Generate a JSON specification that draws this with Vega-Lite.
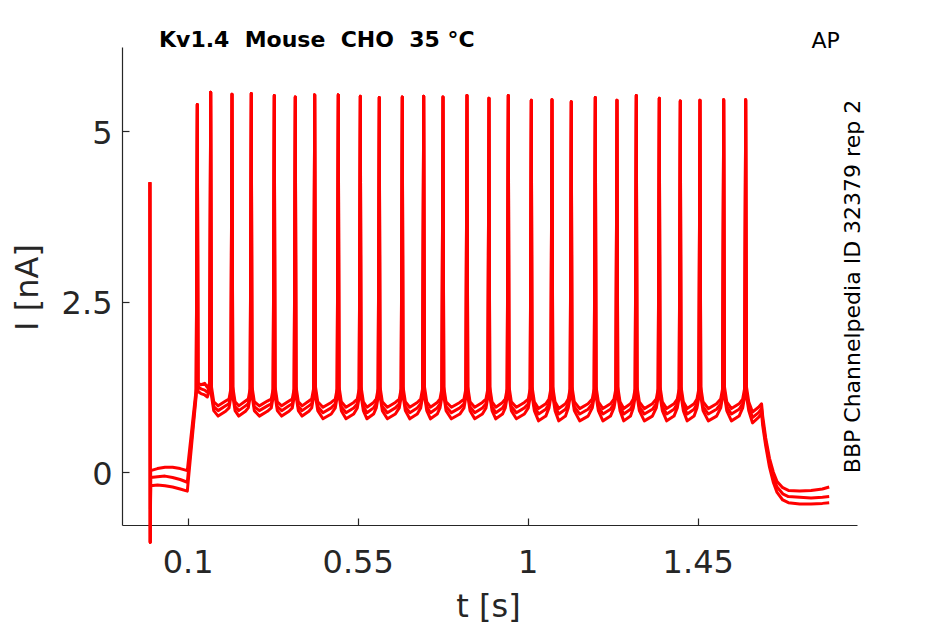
{
"$schema": "https://vega.github.io/schema/vega-lite/v6.json",
"width": 735, "height": 478,
"autosize": "none",
"padding": {"left": 122, "top": 47, "right": 88, "bottom": 99},
"background": "white",
"config": {"font": "DejaVu Sans", "view": {"stroke": null}, "axis": {"grid": false}},
"title": {"text": "Kv1.4\u00a0 Mouse\u00a0 CHO\u00a0 35 °C", "anchor": "start", "frame": "group", "dx": 37, "offset": -40, "baseline": "alphabetic", "fontSize": 22, "fontWeight": "bold", "color": "#000000", "font": "DejaVu Sans"},
"data": {"values": [
{"t":0,"a":4.25,"b":4.25,"c":4.25},
{"t":0.0008,"a":-1.03,"b":-1.03,"c":-1.03},
{"t":0.002,"a":0.02,"b":-0.08,"c":-0.2},
{"t":0.02,"a":0.05,"b":-0.07,"c":-0.19},
{"t":0.04,"a":0.07,"b":-0.06,"c":-0.2},
{"t":0.06,"a":0.07,"b":-0.08,"c":-0.22},
{"t":0.08,"a":0.05,"b":-0.11,"c":-0.25},
{"t":0.099,"a":0.02,"b":-0.15,"c":-0.28},
{"t":0.1225,"a":1.22,"b":1.17,"c":1.12},
{"t":0.1254,"a":5.39,"b":5.39,"c":5.39},
{"t":0.1274,"a":1.3,"b":1.25,"c":1.18},
{"t":0.135,"a":1.28,"b":1.22,"c":1.15},
{"t":0.145,"a":1.3,"b":1.2,"c":1.13},
{"t":0.152,"a":1.24,"b":1.17,"c":1.1},
{"t":0.1579,"a":1.3,"b":1.25,"c":1.2},
{"t":0.1609,"a":5.57,"b":5.57,"c":5.57},
{"t":0.1629,"a":1.25,"b":1.18,"c":1.12},
{"t":0.1689,"a":1.03,"b":0.96,"c":0.9},
{"t":0.1806,"a":0.97,"b":0.9,"c":0.82},
{"t":0.2004,"a":1.04,"b":0.97,"c":0.89},
{"t":0.2093,"a":1.07,"b":1.0,"c":0.94},
{"t":0.2143,"a":1.22,"b":1.15,"c":1.1},
{"t":0.2173,"a":5.54,"b":5.54,"c":5.54},
{"t":0.2193,"a":1.25,"b":1.18,"c":1.12},
{"t":0.2253,"a":1.03,"b":0.96,"c":0.9},
{"t":0.2352,"a":0.97,"b":0.9,"c":0.82},
{"t":0.253,"a":1.04,"b":0.97,"c":0.89},
{"t":0.2603,"a":1.07,"b":1.0,"c":0.94},
{"t":0.2653,"a":1.22,"b":1.15,"c":1.1},
{"t":0.2683,"a":5.55,"b":5.55,"c":5.55},
{"t":0.2703,"a":1.25,"b":1.18,"c":1.12},
{"t":0.2763,"a":1.03,"b":0.96,"c":0.9},
{"t":0.2896,"a":0.97,"b":0.9,"c":0.82},
{"t":0.3109,"a":1.04,"b":0.97,"c":0.89},
{"t":0.3212,"a":1.07,"b":1.0,"c":0.94},
{"t":0.3262,"a":1.22,"b":1.15,"c":1.1},
{"t":0.3292,"a":5.52,"b":5.52,"c":5.52},
{"t":0.3312,"a":1.25,"b":1.18,"c":1.12},
{"t":0.3372,"a":1.03,"b":0.96,"c":0.9},
{"t":0.3487,"a":0.97,"b":0.9,"c":0.82},
{"t":0.3681,"a":1.04,"b":0.97,"c":0.89},
{"t":0.3768,"a":1.07,"b":1.0,"c":0.94},
{"t":0.3818,"a":1.22,"b":1.15,"c":1.1},
{"t":0.3848,"a":5.5,"b":5.5,"c":5.5},
{"t":0.3868,"a":1.25,"b":1.18,"c":1.12},
{"t":0.3928,"a":1.03,"b":0.96,"c":0.9},
{"t":0.4028,"a":0.97,"b":0.9,"c":0.82},
{"t":0.4208,"a":1.04,"b":0.97,"c":0.89},
{"t":0.4282,"a":1.07,"b":1.0,"c":0.94},
{"t":0.4332,"a":1.22,"b":1.15,"c":1.1},
{"t":0.4362,"a":5.53,"b":5.53,"c":5.53},
{"t":0.4382,"a":1.25,"b":1.18,"c":1.12},
{"t":0.4442,"a":1.03,"b":0.96,"c":0.9},
{"t":0.458,"a":0.95,"b":0.87,"c":0.78},
{"t":0.4799,"a":1.02,"b":0.94,"c":0.85},
{"t":0.4906,"a":1.07,"b":1.0,"c":0.94},
{"t":0.4956,"a":1.22,"b":1.15,"c":1.1},
{"t":0.4986,"a":5.53,"b":5.53,"c":5.53},
{"t":0.5006,"a":1.25,"b":1.18,"c":1.12},
{"t":0.5066,"a":1.03,"b":0.96,"c":0.9},
{"t":0.519,"a":0.95,"b":0.87,"c":0.78},
{"t":0.5394,"a":1.02,"b":0.94,"c":0.85},
{"t":0.5489,"a":1.07,"b":1.0,"c":0.94},
{"t":0.5539,"a":1.22,"b":1.15,"c":1.1},
{"t":0.5569,"a":5.51,"b":5.51,"c":5.51},
{"t":0.5589,"a":1.25,"b":1.18,"c":1.12},
{"t":0.5649,"a":1.03,"b":0.96,"c":0.9},
{"t":0.5745,"a":0.95,"b":0.87,"c":0.78},
{"t":0.592,"a":1.02,"b":0.94,"c":0.85},
{"t":0.5991,"a":1.07,"b":1.0,"c":0.94},
{"t":0.6041,"a":1.22,"b":1.15,"c":1.1},
{"t":0.6071,"a":5.49,"b":5.49,"c":5.49},
{"t":0.6091,"a":1.25,"b":1.18,"c":1.12},
{"t":0.6151,"a":1.03,"b":0.96,"c":0.9},
{"t":0.6284,"a":0.95,"b":0.87,"c":0.78},
{"t":0.6497,"a":1.02,"b":0.94,"c":0.85},
{"t":0.66,"a":1.07,"b":1.0,"c":0.94},
{"t":0.665,"a":1.22,"b":1.15,"c":1.1},
{"t":0.668,"a":5.5,"b":5.5,"c":5.5},
{"t":0.67,"a":1.25,"b":1.18,"c":1.12},
{"t":0.676,"a":1.03,"b":0.96,"c":0.9},
{"t":0.6878,"a":0.95,"b":0.87,"c":0.78},
{"t":0.7077,"a":1.02,"b":0.94,"c":0.85},
{"t":0.7167,"a":1.07,"b":1.0,"c":0.94},
{"t":0.7217,"a":1.22,"b":1.15,"c":1.1},
{"t":0.7247,"a":5.51,"b":5.51,"c":5.51},
{"t":0.7267,"a":1.25,"b":1.18,"c":1.12},
{"t":0.7327,"a":1.03,"b":0.96,"c":0.9},
{"t":0.7426,"a":0.95,"b":0.87,"c":0.78},
{"t":0.7605,"a":1.02,"b":0.94,"c":0.85},
{"t":0.7678,"a":1.07,"b":1.0,"c":0.94},
{"t":0.7728,"a":1.22,"b":1.15,"c":1.1},
{"t":0.7758,"a":5.5,"b":5.5,"c":5.5},
{"t":0.7778,"a":1.25,"b":1.18,"c":1.12},
{"t":0.7838,"a":1.03,"b":0.96,"c":0.9},
{"t":0.798,"a":0.95,"b":0.87,"c":0.78},
{"t":0.8203,"a":1.02,"b":0.94,"c":0.85},
{"t":0.8313,"a":1.07,"b":1.0,"c":0.94},
{"t":0.8363,"a":1.22,"b":1.15,"c":1.1},
{"t":0.8393,"a":5.52,"b":5.52,"c":5.52},
{"t":0.8413,"a":1.25,"b":1.18,"c":1.12},
{"t":0.8473,"a":1.03,"b":0.96,"c":0.9},
{"t":0.8597,"a":0.95,"b":0.87,"c":0.78},
{"t":0.88,"a":1.02,"b":0.94,"c":0.85},
{"t":0.8895,"a":1.07,"b":1.0,"c":0.94},
{"t":0.8945,"a":1.22,"b":1.15,"c":1.1},
{"t":0.8975,"a":5.48,"b":5.48,"c":5.48},
{"t":0.8995,"a":1.25,"b":1.18,"c":1.12},
{"t":0.9055,"a":1.03,"b":0.96,"c":0.9},
{"t":0.9154,"a":0.95,"b":0.87,"c":0.78},
{"t":0.9333,"a":1.02,"b":0.94,"c":0.85},
{"t":0.9406,"a":1.07,"b":1.0,"c":0.94},
{"t":0.9456,"a":1.22,"b":1.15,"c":1.1},
{"t":0.9486,"a":5.52,"b":5.52,"c":5.52},
{"t":0.9506,"a":1.25,"b":1.18,"c":1.12},
{"t":0.9566,"a":1.03,"b":0.96,"c":0.9},
{"t":0.9699,"a":0.95,"b":0.87,"c":0.78},
{"t":0.9912,"a":1.02,"b":0.94,"c":0.85},
{"t":1.0015,"a":1.07,"b":1.0,"c":0.94},
{"t":1.0065,"a":1.22,"b":1.15,"c":1.1},
{"t":1.0095,"a":5.45,"b":5.45,"c":5.45},
{"t":1.0115,"a":1.25,"b":1.18,"c":1.12},
{"t":1.0175,"a":1.03,"b":0.96,"c":0.9},
{"t":1.0287,"a":0.93,"b":0.85,"c":0.75},
{"t":1.0479,"a":1.0,"b":0.92,"c":0.82},
{"t":1.0563,"a":1.07,"b":1.0,"c":0.94},
{"t":1.0613,"a":1.22,"b":1.15,"c":1.1},
{"t":1.0643,"a":5.46,"b":5.46,"c":5.46},
{"t":1.0663,"a":1.25,"b":1.18,"c":1.12},
{"t":1.0723,"a":1.03,"b":0.96,"c":0.9},
{"t":1.0822,"a":0.93,"b":0.85,"c":0.75},
{"t":1.1,"a":1.0,"b":0.92,"c":0.82},
{"t":1.1073,"a":1.07,"b":1.0,"c":0.94},
{"t":1.1123,"a":1.22,"b":1.15,"c":1.1},
{"t":1.1153,"a":5.43,"b":5.43,"c":5.43},
{"t":1.1173,"a":1.25,"b":1.18,"c":1.12},
{"t":1.1233,"a":1.03,"b":0.96,"c":0.9},
{"t":1.1376,"a":0.93,"b":0.85,"c":0.75},
{"t":1.1598,"a":1.0,"b":0.92,"c":0.82},
{"t":1.1709,"a":1.07,"b":1.0,"c":0.94},
{"t":1.1759,"a":1.22,"b":1.15,"c":1.1},
{"t":1.1789,"a":5.49,"b":5.49,"c":5.49},
{"t":1.1809,"a":1.25,"b":1.18,"c":1.12},
{"t":1.1869,"a":1.03,"b":0.96,"c":0.9},
{"t":1.199,"a":0.93,"b":0.85,"c":0.75},
{"t":1.2191,"a":1.0,"b":0.92,"c":0.82},
{"t":1.2283,"a":1.07,"b":1.0,"c":0.94},
{"t":1.2333,"a":1.22,"b":1.15,"c":1.1},
{"t":1.2363,"a":5.45,"b":5.45,"c":5.45},
{"t":1.2383,"a":1.25,"b":1.18,"c":1.12},
{"t":1.2443,"a":1.03,"b":0.96,"c":0.9},
{"t":1.2542,"a":0.93,"b":0.85,"c":0.75},
{"t":1.2721,"a":1.0,"b":0.92,"c":0.82},
{"t":1.2794,"a":1.07,"b":1.0,"c":0.94},
{"t":1.2844,"a":1.22,"b":1.15,"c":1.1},
{"t":1.2874,"a":5.52,"b":5.52,"c":5.52},
{"t":1.2894,"a":1.25,"b":1.18,"c":1.12},
{"t":1.2954,"a":1.03,"b":0.96,"c":0.9},
{"t":1.3087,"a":0.93,"b":0.85,"c":0.75},
{"t":1.33,"a":1.0,"b":0.92,"c":0.82},
{"t":1.3403,"a":1.07,"b":1.0,"c":0.94},
{"t":1.3453,"a":1.22,"b":1.15,"c":1.1},
{"t":1.3483,"a":5.48,"b":5.48,"c":5.48},
{"t":1.3503,"a":1.25,"b":1.18,"c":1.12},
{"t":1.3563,"a":1.03,"b":0.96,"c":0.9},
{"t":1.3678,"a":0.93,"b":0.85,"c":0.75},
{"t":1.3872,"a":1.0,"b":0.92,"c":0.82},
{"t":1.3959,"a":1.07,"b":1.0,"c":0.94},
{"t":1.4009,"a":1.22,"b":1.15,"c":1.1},
{"t":1.4039,"a":5.44,"b":5.44,"c":5.44},
{"t":1.4059,"a":1.25,"b":1.18,"c":1.12},
{"t":1.4119,"a":1.03,"b":0.96,"c":0.9},
{"t":1.4221,"a":0.93,"b":0.85,"c":0.75},
{"t":1.4404,"a":1.0,"b":0.92,"c":0.82},
{"t":1.448,"a":1.07,"b":1.0,"c":0.94},
{"t":1.453,"a":1.22,"b":1.15,"c":1.1},
{"t":1.456,"a":5.45,"b":5.45,"c":5.45},
{"t":1.458,"a":1.25,"b":1.18,"c":1.12},
{"t":1.464,"a":1.03,"b":0.96,"c":0.9},
{"t":1.478,"a":0.93,"b":0.85,"c":0.75},
{"t":1.5,"a":1.0,"b":0.92,"c":0.82},
{"t":1.5108,"a":1.07,"b":1.0,"c":0.94},
{"t":1.5158,"a":1.22,"b":1.15,"c":1.1},
{"t":1.5188,"a":5.46,"b":5.46,"c":5.46},
{"t":1.5208,"a":1.25,"b":1.18,"c":1.12},
{"t":1.5268,"a":1.03,"b":0.96,"c":0.9},
{"t":1.5392,"a":0.93,"b":0.85,"c":0.75},
{"t":1.5595,"a":1.0,"b":0.92,"c":0.82},
{"t":1.569,"a":1.07,"b":1.0,"c":0.94},
{"t":1.574,"a":1.22,"b":1.15,"c":1.1},
{"t":1.577,"a":5.46,"b":5.46,"c":5.46},
{"t":1.579,"a":1.25,"b":1.18,"c":1.12},
{"t":1.585,"a":1.03,"b":0.96,"c":0.9},
{"t":1.595,"a":0.88,"b":0.8,"c":0.72},
{"t":1.611,"a":0.95,"b":0.87,"c":0.8},
{"t":1.619,"a":1.0,"b":0.93,"c":0.86},
{"t":1.622,"a":0.82,"b":0.75,"c":0.68},
{"t":1.63,"a":0.5,"b":0.44,"c":0.38},
{"t":1.64,"a":0.2,"b":0.13,"c":0.07},
{"t":1.65,"a":0.0,"b":-0.08,"c":-0.15},
{"t":1.66,"a":-0.14,"b":-0.22,"c":-0.3},
{"t":1.675,"a":-0.23,"b":-0.32,"c":-0.41},
{"t":1.69,"a":-0.27,"b":-0.36,"c":-0.45},
{"t":1.72,"a":-0.28,"b":-0.37,"c":-0.47},
{"t":1.75,"a":-0.27,"b":-0.38,"c":-0.47},
{"t":1.78,"a":-0.25,"b":-0.37,"c":-0.46},
{"t":1.798,"a":-0.22,"b":-0.36,"c":-0.45}
]},
"transform": [{"fold": ["a", "b", "c"], "as": ["rep", "i"]}],
"layer": [
{
"mark": {"type": "line", "color": "#ff0000", "strokeWidth": 3, "strokeJoin": "round"},
"encoding": {
"x": {"field": "t", "type": "quantitative", "scale": {"domain": [-0.0739, 1.8716], "nice": false, "zero": false},
"axis": {"orient": "bottom", "values": [0.1, 0.55, 1, 1.45], "format": ".3~g", "domainColor": "#262626", "domainWidth": 1.2, "tickColor": "#262626", "tickWidth": 1.2, "tickSize": -7, "labelFont": "DejaVu Sans", "labelFontSize": 32, "labelColor": "#262626", "labelBaseline": "alphabetic", "labelPadding": 54, "labelFlush": false, "labelOverlap": false, "title": "t [s]", "titleFont": "DejaVu Sans", "titleFontSize": 32, "titleFontWeight": "normal", "titleColor": "#262626", "titleBaseline": "alphabetic", "titleX": 366, "titleY": 91}},
"y": {"field": "i", "type": "quantitative", "scale": {"domain": [-0.777, 6.232], "nice": false, "zero": false},
"axis": {"orient": "left", "values": [0, 2.5, 5], "format": ".3~g", "domainColor": "#262626", "domainWidth": 1.2, "tickColor": "#262626", "tickWidth": 1.2, "tickSize": -7, "labelFont": "DejaVu Sans", "labelFontSize": 32, "labelColor": "#262626", "labelBaseline": "alphabetic", "labelOffset": 12, "labelPadding": 17, "labelOverlap": false, "title": "I [nA]", "titleFont": "DejaVu Sans", "titleFontSize": 32, "titleFontWeight": "normal", "titleColor": "#262626", "titleAngle": -90, "titleBaseline": "alphabetic", "titleAlign": "center", "titleX": -85, "titleY": 240}},
"detail": {"field": "rep"}
}
},
{
"mark": {"type": "line", "strokeOpacity": 0},
"encoding": {
"x": {"field": "t", "type": "quantitative", "axis": {"orient": "top", "domain": false, "ticks": false, "labels": false, "title": "AP", "titleFont": "DejaVu Sans", "titleFontSize": 22, "titleFontWeight": "normal", "titleColor": "#000000", "titleBaseline": "alphabetic", "titleAlign": "left", "titleX": 689, "titleY": 0}},
"y": {"field": "i", "type": "quantitative", "axis": {"orient": "right", "domain": false, "ticks": false, "labels": false, "title": "BBP Channelpedia ID 32379 rep 2", "titleFont": "DejaVu Sans", "titleFontSize": 22, "titleFontWeight": "normal", "titleColor": "#000000", "titleAngle": -90, "titleBaseline": "alphabetic", "titleAlign": "center", "titleX": 2, "titleY": 239}},
"detail": {"field": "rep"}
}
}
],
"resolve": {"axis": {"x": "independent", "y": "independent"}}
}
